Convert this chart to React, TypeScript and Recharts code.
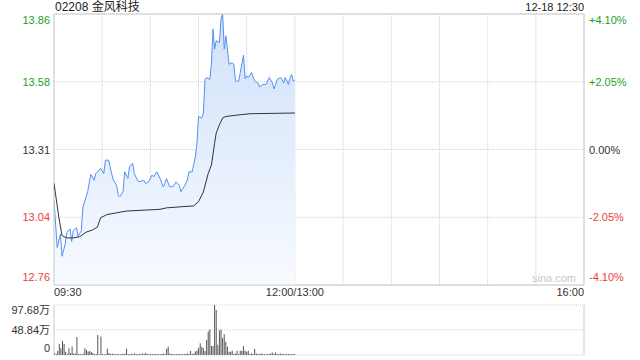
import React from "react";
import {
  ComposedChart,
  Area,
  Line,
  XAxis,
  YAxis,
  CartesianGrid,
  ReferenceArea,
  BarChart,
  Bar,
} from "recharts";

// ---- data ----
const stockTitle = "02208 金风科技";
const stampText = "12-18 12:30";
const prevClose = 13.31;
const pctLevels = [-4.1, -2.05, 0, 2.05, 4.1];
const priceLabels = ["12.76", "13.04", "13.31", "13.58", "13.86"];
const pctLabels = ["-4.10%", "-2.05%", "0.00%", "+2.05%", "+4.10%"];
const gridMinutes = [0, 30, 60, 90, 120, 150, 180, 210, 240, 270, 300, 330];
const timeLabelMinutes = [0, 150, 330];
const timeLabels = ["09:30", "12:00/13:00", "16:00"];

const priceMinutes = [
  0, 2, 4, 5, 7, 8, 10, 11, 12, 14, 15, 17, 18, 20, 21, 22, 23, 25, 26, 27, 29,
  31, 32, 34, 36, 37, 39, 40, 41, 43, 44, 46, 47, 49, 50, 52, 53, 56, 57, 59,
  61, 62, 64, 66, 68, 69, 70, 72, 74, 76, 78, 79, 81, 83, 84, 86, 87, 88, 89,
  90, 92, 93, 94, 95, 97, 98, 99, 100, 101, 103, 104, 105, 106, 107, 108, 109,
  111, 112, 113, 115, 116, 118, 119, 120, 121, 123, 125, 127, 128, 130, 132,
  134, 136, 137, 139, 141, 142, 143, 144, 146, 147, 148, 149, 150,
];
const priceValues = [
  13.105, 12.915, 12.97, 12.88, 12.93, 12.975, 12.99, 12.94, 12.983, 12.995,
  12.96, 12.983, 13.078, 13.12, 13.14, 13.18, 13.21, 13.186, 13.213, 13.22,
  13.234, 13.213, 13.267, 13.267, 13.21, 13.186, 13.166, 13.126, 13.12, 13.14,
  13.22, 13.193, 13.24, 13.254, 13.213, 13.186, 13.18, 13.186, 13.173, 13.18,
  13.207, 13.2, 13.22, 13.193, 13.16, 13.173, 13.193, 13.16, 13.16, 13.18,
  13.166, 13.14, 13.16, 13.186, 13.22, 13.22, 13.25, 13.28, 13.335, 13.443,
  13.437, 13.457, 13.592, 13.6, 13.592, 13.653, 13.795, 13.714, 13.748,
  13.741, 13.836, 13.856, 13.714, 13.768, 13.714, 13.653, 13.66, 13.653,
  13.585, 13.585, 13.62, 13.69, 13.595, 13.606, 13.6, 13.62, 13.585, 13.578,
  13.562, 13.572, 13.572, 13.6, 13.578, 13.554, 13.592, 13.6, 13.592, 13.578,
  13.6, 13.572, 13.6, 13.612, 13.585, 13.59,
];

const avgMinutes = [
  0, 3, 5, 8, 12, 16, 20, 24, 27, 29, 33, 45, 66, 70, 87, 90, 93, 96, 98, 100,
  101, 103, 105, 107, 116, 122, 150,
];
const avgValues = [
  13.174, 13.037, 12.963, 12.954, 12.954, 12.959, 12.977, 12.986, 12.997,
  13.035, 13.048, 13.062, 13.069, 13.075, 13.083, 13.1, 13.139, 13.213, 13.247,
  13.335, 13.376, 13.41, 13.437, 13.443, 13.45, 13.454, 13.457,
];

// volume in 万, one value per minute from 09:30
const volumeValues = [
  4.6, 2, 8, 21.6, 13, 27.5, 21.6, 6.5, 2, 13, 4, 16.4, 3, 3, 35, 2, 2, 1.5, 3,
  13, 10, 6.5, 8, 6, 4, 2, 2, 39, 1, 36, 2, 1, 2, 12, 4, 2, 3, 2, 1.5, 2, 2,
  1.5, 2, 2, 3, 12, 2, 1.5, 2, 2, 3, 2, 1.5, 2, 2, 3, 2, 4.6, 2, 1.5, 2, 2, 1.5,
  2, 2, 1.5, 2, 2, 3, 2, 12, 16.4, 3, 2, 2, 1.5, 2, 1.5, 2, 2, 1.5, 2, 2, 3, 2,
  8, 2, 3, 7, 8.5, 14, 23, 16, 13, 8, 29.5, 46, 50, 17.7, 17.7, 97.68, 88, 20,
  48, 50, 33, 40.5, 26, 16, 6.5, 6.5, 8.5, 2, 3, 8.5, 2, 8.5, 8.5, 17.7, 8.5,
  6.5, 8.5, 2, 3, 2, 12, 3, 2, 2, 3, 2, 2, 1.5, 2, 2, 3, 5, 2, 5, 2, 2, 3, 2, 2,
  1.5, 2, 2, 2, 1.5, 2, 2,
];
const volumeTicks = [0, 48.84, 97.68];
const volumeLabels = ["0", "48.84万", "97.68万"];
const totalMinutes = 330;

// ---- derived tables ----
const priceTicks = pctLevels.map((p) => prevClose * (1 + p / 100));
const priceLo = priceTicks[0];
const priceHi = priceTicks[priceTicks.length - 1];
const priceData = priceMinutes.map((t, i) => ({ t, p: priceValues[i] }));
const avgData = avgMinutes.map((t, i) => ({ t, a: avgValues[i] }));
const volumeData = Array.from({ length: totalMinutes + 1 }, (_, t) => ({
  t,
  v: t < volumeValues.length ? volumeValues[t] : null,
}));

const FONT = '"Liberation Sans", Arial, "Noto Sans CJK SC", sans-serif';
const GREEN = "#1f9f1f";
const RED = "#f03b3b";
const GRAY = "#333333";
const labelColor = (i: number) => (i < 2 ? RED : i === 2 ? GRAY : GREEN);

const tickIndexOf = (list: number[], v: number) => {
  let best = 0;
  list.forEach((t, i) => {
    if (Math.abs(t - v) < Math.abs(list[best] - v)) best = i;
  });
  return best;
};

const PriceTick = (props: any) => {
  const { y, payload } = props;
  const index = tickIndexOf(priceTicks, payload.value);
  const dy = index === 0 ? -4 : index === priceTicks.length - 1 ? 10 : 4;
  return (
    <g>
      <text x={50} y={y + dy} textAnchor="end" fontSize={11} fill={labelColor(index)} fontFamily={FONT}>
        {priceLabels[index]}
      </text>
      <text x={589} y={y + dy} textAnchor="start" fontSize={11} fill={labelColor(index)} fontFamily={FONT}>
        {pctLabels[index]}
      </text>
    </g>
  );
};

const TimeTick = (props: any) => {
  const { x, payload } = props;
  const k = timeLabelMinutes.indexOf(payload.value);
  if (k < 0) return <g />;
  const anchor = k === 0 ? "start" : k === timeLabels.length - 1 ? "end" : "middle";
  return (
    <text x={x} y={296} textAnchor={anchor} fontSize={11} fill={GRAY} fontFamily={FONT}>
      {timeLabels[k]}
    </text>
  );
};

const VolTick = (props: any) => {
  const { y, payload } = props;
  const index = tickIndexOf(volumeTicks, payload.value);
  const dy = index === 0 ? -3 : index === volumeTicks.length - 1 ? 9 : 4;
  return (
    <text x={50} y={y + dy} textAnchor="end" fontSize={11} fill={GRAY} fontFamily={FONT}>
      {volumeLabels[index]}
    </text>
  );
};

export default function App() {
  return (
    <div
      style={{
        position: "absolute",
        left: 0,
        top: 0,
        width: 640,
        height: 360,
        fontFamily: FONT,
        background: "#fff",
      }}
    >
      <div style={{ position: "absolute", left: 55, top: 0, fontSize: 12, color: "#222", lineHeight: "14px" }}>
        {stockTitle}
      </div>
      <div style={{ position: "absolute", right: 56, top: 0, fontSize: 11, color: "#222", lineHeight: "14px" }}>
        {stampText}
      </div>
      <div style={{ position: "absolute", left: 0, top: 0 }}>
        <ComposedChart width={640} height={300} margin={{ top: 14, right: 56, bottom: 0, left: 0 }}>
          <defs>
            <linearGradient id="priceFill" x1="0" y1="0" x2="0" y2="1">
              <stop offset="0%" stopColor="#d0e0fa" />
              <stop offset="100%" stopColor="#f8fbff" />
            </linearGradient>
          </defs>
          <CartesianGrid stroke="#cfcfcf" strokeDasharray="1 1" />
          <XAxis
            type="number"
            dataKey="t"
            domain={[0, totalMinutes]}
            ticks={gridMinutes}
            interval={0}
            tick={TimeTick}
            axisLine={false}
            tickLine={false}
            height={15}
            allowDataOverflow
          />
          <YAxis
            type="number"
            domain={[priceLo, priceHi]}
            ticks={priceTicks}
            interval={0}
            tick={PriceTick}
            axisLine={false}
            tickLine={false}
            width={54}
            allowDataOverflow
          />
          <Area
            data={priceData}
            dataKey="p"
            type="linear"
            stroke="#5590f0"
            strokeWidth={1}
            fill="url(#priceFill)"
            fillOpacity={1}
            baseValue="dataMin"
            dot={false}
            activeDot={false}
            isAnimationActive={false}
          />
          <Line
            data={avgData}
            dataKey="a"
            type="linear"
            stroke="#333"
            strokeWidth={1}
            dot={false}
            activeDot={false}
            isAnimationActive={false}
          />
          <ReferenceArea x1={0} x2={totalMinutes} y1={priceLo} y2={priceHi} fill="none" stroke="#cccccc" />
        </ComposedChart>
      </div>
      <div
        style={{
          position: "absolute",
          left: 532,
          top: 271,
          fontSize: 11,
          color: "#c8c8c8",
          lineHeight: "14px",
        }}
      >
        sina.com
      </div>
      <div style={{ position: "absolute", left: 0, top: 300 }}>
        <BarChart
          width={640}
          height={60}
          data={volumeData}
          margin={{ top: 5, right: 0, bottom: 5, left: 0 }}
          barCategoryGap={0}
        >
          <CartesianGrid stroke="#cfcfcf" strokeDasharray="1 1" vertical={false} />
          <XAxis dataKey="t" hide />
          <YAxis
            type="number"
            domain={[0, volumeTicks[volumeTicks.length - 1]]}
            ticks={volumeTicks}
            interval={0}
            tick={VolTick}
            axisLine={{ stroke: "#cccccc" }}
            tickLine={false}
            width={54}
          />
          <YAxis
            yAxisId="right"
            orientation="right"
            type="number"
            domain={[0, 1]}
            tick={false}
            tickLine={false}
            axisLine={{ stroke: "#cccccc" }}
            width={56}
          />
          <Bar dataKey="v" fill="#555" barSize={1} isAnimationActive={false} />
        </BarChart>
      </div>
    </div>
  );
}
